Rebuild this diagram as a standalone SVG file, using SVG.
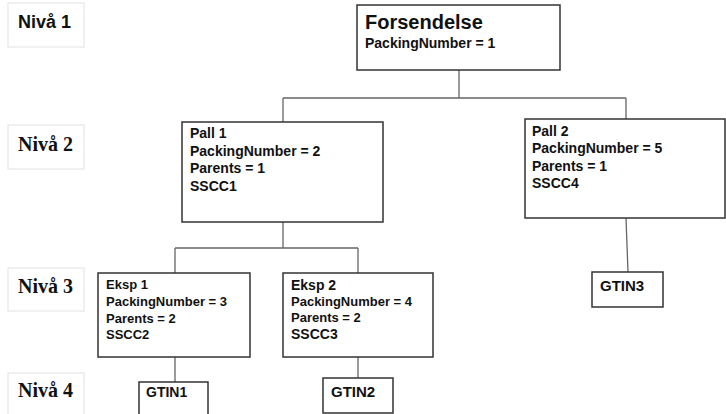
<svg xmlns="http://www.w3.org/2000/svg" width="726" height="414" viewBox="0 0 726 414">
<style>
.lvl{fill:#fff;stroke:#e2e2e2;stroke-width:1}
.lt{font-family:"Liberation Serif",serif;font-weight:bold;font-size:20px;fill:#111}
.lt1{font-family:"Liberation Sans",sans-serif;font-weight:bold;font-size:18px;fill:#111}
.box{fill:#fff;stroke:#333;stroke-width:1.5}
.t{font-family:"Liberation Sans",Arial,sans-serif;font-weight:bold;font-size:14px;fill:#111}
.s{font-size:13px}
.g{font-size:15px}
.title{font-size:20px}
.c{fill:none;stroke:#666;stroke-width:1.3}
</style>
<rect width="726" height="414" fill="#fff"/>
<g id="levels">
<g id="niva1"><rect class="lvl" x="8" y="3" width="76" height="44"/><text class="lt1" x="18" y="28">Nivå 1</text></g>
<g id="niva2"><rect class="lvl" x="8" y="125" width="76" height="44"/><text class="lt" x="18" y="151">Nivå 2</text></g>
<g id="niva3"><rect class="lvl" x="8" y="268" width="76" height="43"/><text class="lt" x="18" y="293">Nivå 3</text></g>
<g id="niva4"><rect class="lvl" x="8" y="373" width="76" height="50"/><text class="lt" x="18" y="397">Nivå 4</text></g>
</g>
<g id="connectors">
<path class="c" d="M459 70V98M283 98H626M283 98V122M626 98V119"/>
<path class="c" d="M283 222V248M175 248H358M175 248V273M358 248V273"/>
<path class="c" d="M175 357V382M358 357V378M626 218L628 272"/>
</g>
<g id="forsendelse"><rect class="box" x="357" y="5" width="203" height="65"/>
<text class="t title" x="365" y="29">Forsendelse</text>
<text class="t" x="365" y="48">PackingNumber = 1</text></g>
<g id="pall1"><rect class="box" x="182" y="122" width="201" height="100"/>
<text class="t" x="190" y="138">Pall 1</text>
<text class="t" x="190" y="156">PackingNumber = 2</text>
<text class="t" x="190" y="173">Parents = 1</text>
<text class="t" x="190" y="191">SSCC1</text></g>
<g id="pall2"><rect class="box" x="525" y="119" width="200" height="99"/>
<text class="t" x="532" y="136">Pall 2</text>
<text class="t" x="532" y="153">PackingNumber = 5</text>
<text class="t" x="532" y="171">Parents = 1</text>
<text class="t" x="532" y="188">SSCC4</text></g>
<g id="eksp1"><rect class="box" x="98" y="273" width="152" height="84"/>
<text class="t s" x="106" y="289">Eksp 1</text>
<text class="t s" x="106" y="306">PackingNumber = 3</text>
<text class="t s" x="106" y="323">Parents = 2</text>
<text class="t s" x="106" y="339">SSCC2</text></g>
<g id="eksp2"><rect class="box" x="283" y="273" width="150" height="84"/>
<text class="t" x="291" y="290">Eksp 2</text>
<text class="t s" x="291" y="306">PackingNumber = 4</text>
<text class="t s" x="291" y="322">Parents = 2</text>
<text class="t" x="291" y="339">SSCC3</text></g>
<g id="gtin1"><rect class="box" x="139" y="382" width="69" height="40"/>
<text class="t" x="146" y="397">GTIN1</text></g>
<g id="gtin2"><rect class="box" x="323" y="378" width="70" height="35"/>
<text class="t g" x="331" y="397">GTIN2</text></g>
<g id="gtin3"><rect class="box" x="592" y="272" width="71" height="35"/>
<text class="t g" x="600" y="291">GTIN3</text></g>
</svg>
